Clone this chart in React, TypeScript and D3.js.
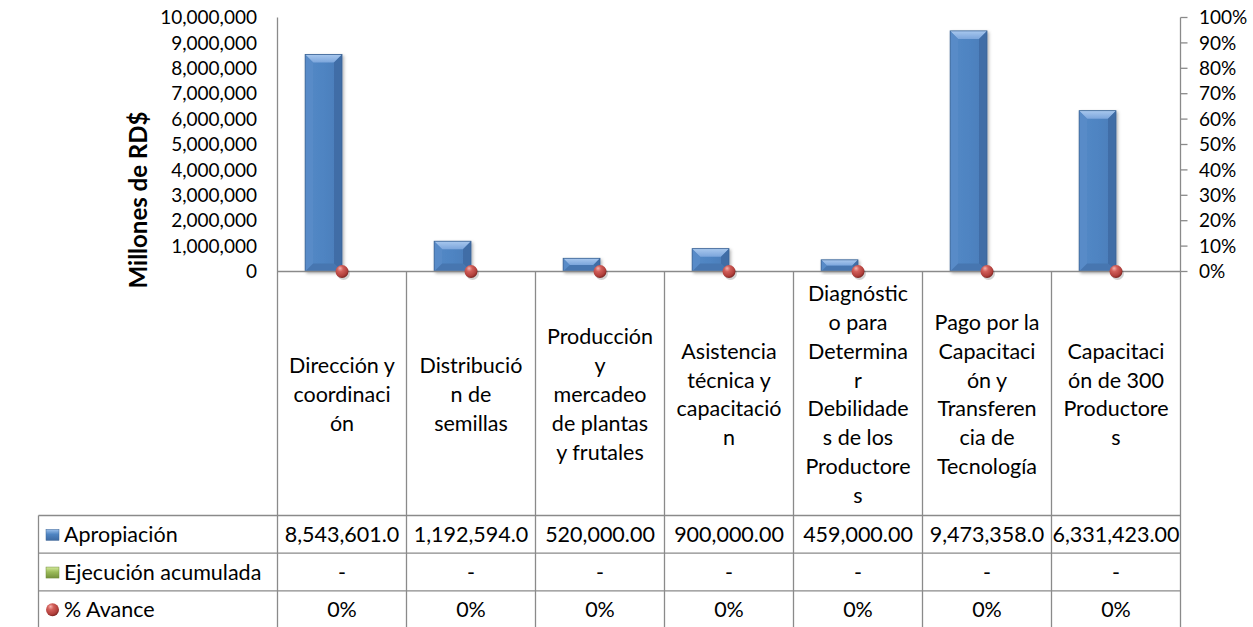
import React from "react";
import * as d3 from "d3";

const categories = [
  "Dirección y coordinación",
  "Distribución de semillas",
  "Producción y mercadeo de plantas y frutales",
  "Asistencia técnica y capacitación",
  "Diagnóstico para Determinar Debilidades de los Productores",
  "Pago por la Capacitación y Transferencia de Tecnología",
  "Capacitación de 300 Productores",
];
const categoryLines = [
  ["Dirección y", "coordinaci", "ón"],
  ["Distribució", "n de", "semillas"],
  ["Producción", "y", "mercadeo", "de plantas", "y frutales"],
  ["Asistencia", "técnica y", "capacitació", "n"],
  ["Diagnóstic", "o para", "Determina", "r", "Debilidade", "s de los", "Productore", "s"],
  ["Pago por la", "Capacitaci", "ón y", "Transferen", "cia de", "Tecnología"],
  ["Capacitaci", "ón de 300", "Productore", "s"],
];
const apropiacion = [8543601, 1192594, 520000, 900000, 459000, 9473358, 6331423];
const apropiacionLabels = ["8,543,601.0", "1,192,594.0", "520,000.00", "900,000.00", "459,000.00", "9,473,358.0", "6,331,423.00"];
const ejecucion = [0, 0, 0, 0, 0, 0, 0];
const ejecucionLabels = ["-", "-", "-", "-", "-", "-", "-"];
const avance = [0, 0, 0, 0, 0, 0, 0];
const seriesNames = ["Apropiación", "Ejecución acumulada", "% Avance"];
const leftTicks = [0, 1000000, 2000000, 3000000, 4000000, 5000000, 6000000, 7000000, 8000000, 9000000, 10000000];
const rightTicks = [0, 0.1, 0.2, 0.3, 0.4, 0.5, 0.6, 0.7, 0.8, 0.9, 1];
const yTitle = "Millones de RD$";

const FONT = "Lato, 'Open Sans', sans-serif";
const GRID = "#8a8a8a";
const TICK_FS = 19;
const TXT_FS = 21.5;

export default function App() {
  const W = 1253, H = 627;
  const plotL = 277.5, plotR = 1180.5, plotT = 17.5, plotB = 271.5;
  const tableL = 38.5;
  const catRowB = 515.5;
  const rowH = 37.7;
  const tableB = catRowB + rowH * 3;

  const x = d3.scaleBand<string>().domain(categories).range([plotL, plotR]).paddingInner(0).paddingOuter(0);
  const bw = x.bandwidth();
  const yL = d3.scaleLinear().domain([0, 10000000]).range([plotB, plotT]);
  const yR = d3.scaleLinear().domain([0, 1]).range([plotB, plotT]);
  const fmtL = d3.format(",");
  const fmtR = d3.format(".0%");

  // cluster of 2 bars, gap width 150%
  const barW = bw / 3.5;
  const clusterOff = (bw - 2 * barW) / 2;

  const bevelBar = (bx: number, v: number, key: string) => {
    const by = yL(v);
    const h = plotB - by;
    if (h <= 0.5) return null;
    const w = barW;
    const b = Math.min(8, h / 2, w / 2);
    return (
      <g key={key} filter="url(#shadow)">
        <rect x={bx} y={by} width={w} height={h} fill="url(#barBody)" />
        <polygon points={`${bx},${by} ${bx + w},${by} ${bx + w - b},${by + b} ${bx + b},${by + b}`} fill="url(#barTop)" />
        <polygon points={`${bx},${by} ${bx + b},${by + b} ${bx + b},${by + h - b} ${bx},${by + h}`} fill="#5a8cc8" opacity={0.9} />
        <polygon points={`${bx + w},${by} ${bx + w - b},${by + b} ${bx + w - b},${by + h - b} ${bx + w},${by + h}`} fill="#3f6ca4" opacity={0.9} />
        <polygon points={`${bx},${by + h} ${bx + b},${by + h - b} ${bx + w - b},${by + h - b} ${bx + w},${by + h}`} fill="#4676b0" />
        <rect x={bx} y={by} width={w} height={h} fill="none" stroke="#3a6394" strokeWidth={0.8} />
      </g>
    );
  };

  const catCenters = categories.map((c) => (x(c) as number) + bw / 2);

  return (
    <svg width={W} height={H} style={{ position: "fixed", left: 0, top: 0, background: "#fff" }} fontFamily={FONT}>
      <defs>
        <linearGradient id="barBody" x1="0" x2="1" y1="0" y2="0">
          <stop offset="0" stopColor="#5389c6" />
          <stop offset="0.5" stopColor="#4f84c2" />
          <stop offset="1" stopColor="#4a7cb8" />
        </linearGradient>
        <linearGradient id="barTop" x1="0" x2="0" y1="0" y2="1">
          <stop offset="0" stopColor="#a9c8ee" />
          <stop offset="1" stopColor="#7ca6dc" />
        </linearGradient>
        <radialGradient id="ball" cx="0.4" cy="0.35" r="0.65" fx="0.35" fy="0.25">
          <stop offset="0" stopColor="#f6b3ae" />
          <stop offset="0.35" stopColor="#d25f5a" />
          <stop offset="0.8" stopColor="#b13f3b" />
          <stop offset="1" stopColor="#7e2522" />
        </radialGradient>
        <linearGradient id="keyBlue" x1="0" x2="0" y1="0" y2="1">
          <stop offset="0" stopColor="#9cc1ec" />
          <stop offset="0.45" stopColor="#4f84c2" />
          <stop offset="1" stopColor="#3d6aa3" />
        </linearGradient>
        <linearGradient id="keyGreen" x1="0" x2="0" y1="0" y2="1">
          <stop offset="0" stopColor="#d4ea9c" />
          <stop offset="0.45" stopColor="#9bbb59" />
          <stop offset="1" stopColor="#74913b" />
        </linearGradient>
        <filter id="shadow" x="-30%" y="-30%" width="160%" height="160%">
          <feDropShadow dx="1.5" dy="1.5" stdDeviation="1.5" floodColor="#000" floodOpacity="0.3" />
        </filter>
      </defs>

      {/* Y axis title */}
      <text
        transform={`translate(147,200) rotate(-90)`}
        textAnchor="middle"
        fontSize={24}
        fontWeight="bold"
        fill="#000"
      >
        {yTitle}
      </text>

      {/* Left tick labels */}
      {leftTicks.map((t) => (
        <text key={"l" + t} x={257} y={yL(t)} dy="0.35em" textAnchor="end" fontSize={TICK_FS} fill="#000">
          {fmtL(t)}
        </text>
      ))}

      {/* Right axis ticks and labels */}
      <line x1={plotR} x2={plotR} y1={plotT} y2={plotB} stroke={GRID} strokeWidth={1.3} />
      {rightTicks.map((t) => (
        <g key={"r" + t}>
          <line x1={plotR} x2={plotR + 7} y1={yR(t)} y2={yR(t)} stroke={GRID} strokeWidth={1.3} />
          <text x={1199} y={yR(t)} dy="0.35em" textAnchor="start" fontSize={TICK_FS} fill="#000">
            {fmtR(t)}
          </text>
        </g>
      ))}

      {/* Bars */}
      {categories.map((c, i) => {
        const x0 = x(c) as number;
        return (
          <g key={"b" + i}>
            {bevelBar(x0 + clusterOff, apropiacion[i], "a" + i)}
            {bevelBar(x0 + clusterOff + barW, ejecucion[i], "e" + i)}
          </g>
        );
      })}

      {/* Table / axis lines */}
      <line x1={plotL} x2={plotL} y1={plotT} y2={tableB} stroke={GRID} strokeWidth={1.3} />
      <line x1={plotR} x2={plotR} y1={plotB} y2={tableB} stroke={GRID} strokeWidth={1.3} />
      {categories.slice(1).map((c) => (
        <line key={"v" + c} x1={x(c) as number} x2={x(c) as number} y1={plotB} y2={tableB} stroke={GRID} strokeWidth={1.3} />
      ))}
      <line x1={plotL} x2={plotR} y1={plotB} y2={plotB} stroke={GRID} strokeWidth={1.3} />
      <line x1={tableL} x2={tableL} y1={catRowB} y2={tableB} stroke={GRID} strokeWidth={1.3} />
      {[0, 1, 2, 3].map((r) => (
        <line key={"h" + r} x1={tableL} x2={plotR} y1={catRowB + r * rowH} y2={catRowB + r * rowH} stroke={GRID} strokeWidth={1.3} />
      ))}

      {/* Markers (% Avance) */}
      {categories.map((c, i) => (
        <g key={"m" + i}>
          <circle cx={catCenters[i] + 1.5} cy={yR(avance[i]) + 2} r={6.5} fill="#000" opacity={0.18} />
          <circle cx={catCenters[i]} cy={yR(avance[i])} r={6.5} fill="url(#ball)" />
        </g>
      ))}

      {/* Category labels */}
      {categoryLines.map((lines, i) => {
        const lh = 28.8;
        const cy = (plotB + catRowB) / 2 + 1;
        const start = cy - ((lines.length - 1) * lh) / 2;
        return (
          <text key={"c" + i} textAnchor="middle" fontSize={TXT_FS} fill="#000">
            {lines.map((ln, j) => (
              <tspan key={j} x={catCenters[i]} y={start + j * lh} dy="0.35em">
                {ln}
              </tspan>
            ))}
          </text>
        );
      })}

      {/* Data table rows */}
      {[apropiacionLabels, ejecucionLabels, avance.map((v) => fmtR(v))].map((row, r) => {
        const cy = catRowB + r * rowH + rowH / 2;
        return (
          <g key={"row" + r}>
            {row.map((t, i) => (
              <text key={i} x={catCenters[i]} y={cy} dy="0.35em" textAnchor="middle" fontSize={TXT_FS} fill="#000">
                {t}
              </text>
            ))}
            {r === 0 && <rect x={46} y={cy - 5} width={13} height={11} fill="url(#keyBlue)" stroke="#3a6394" strokeWidth={0.5} />}
            {r === 1 && <rect x={46} y={cy - 5} width={13} height={11} fill="url(#keyGreen)" stroke="#6f8a38" strokeWidth={0.5} />}
            {r === 2 && <circle cx={52.5} cy={cy} r={6.5} fill="url(#ball)" />}
            <text x={64} y={cy} dy="0.35em" fontSize={TXT_FS} fill="#000">
              {seriesNames[r]}
            </text>
          </g>
        );
      })}
    </svg>
  );
}
